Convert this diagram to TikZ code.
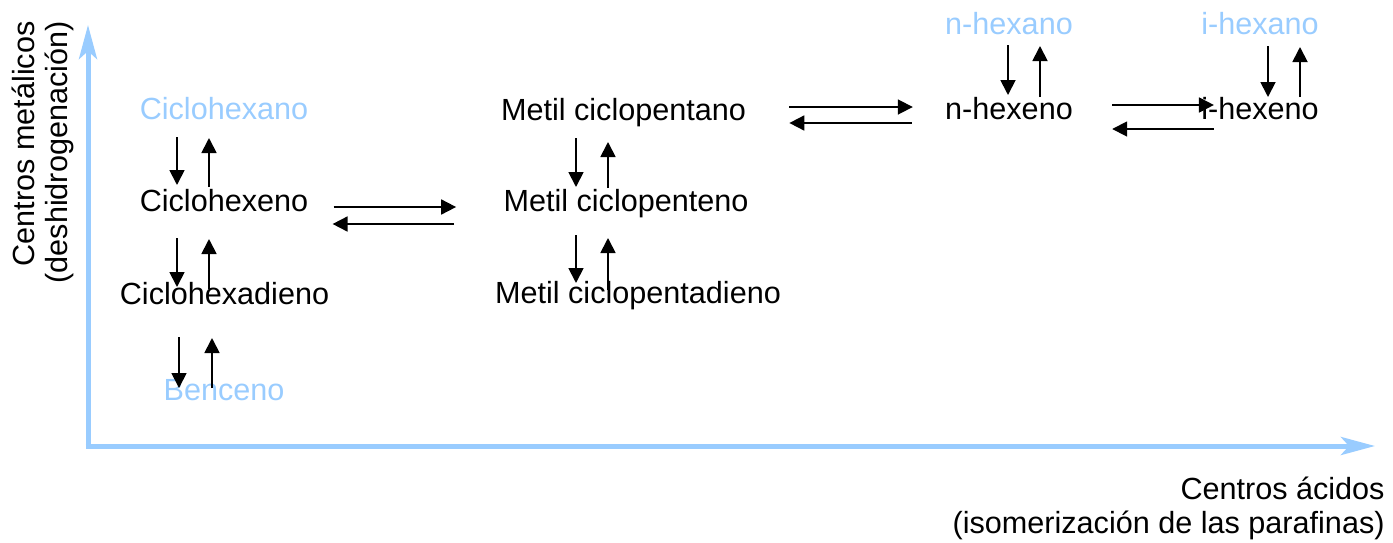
\documentclass[tikz,border=0pt]{standalone}
\usepackage{fontspec}
\setmainfont{Liberation Sans}
\usetikzlibrary{arrows.meta, calc}
\definecolor{axisblue}{RGB}{153,204,255}

\begin{document}
\begin{tikzpicture}[x=0.5pt, y=-0.5pt, line join=miter,
	font=\fontsize{15.3}{17}\selectfont,
	species/.style={inner sep=0pt, anchor=base},
	feed/.style={species, text=axisblue},
	rx/.style={line width=0.9pt, -{Triangle[length=7.5pt, width=7.5pt]}},
	axis/.style={draw=axisblue, line width=2.5pt, -{Stealth[length=17pt, width=9pt, inset=4pt]}}]
	
	\useasboundingbox (0,0) rectangle (1393,542);
	
	% ===============================
	% ============ AXES =============
	% ===============================
	\coordinate (ytop) at (88,25);
	\coordinate (origin) at (88,446);
	\coordinate (xend) at (1375,446);
	\draw[axis] ([yshift=-1.25pt]origin) -- (ytop);
	\draw[axis] ([xshift=-1.25pt]origin) -- (xend);
	
	\node[rotate=90, anchor=base east, align=right, inner sep=0pt] (ylab) at (68,21)
	{Centros metálicos\\(deshidrogenación)};
	\node[anchor=base east, align=right, inner sep=0pt] (xlab) at (1385,533)
	{Centros ácidos\\(isomerización de las parafinas)};
	
	% ===============================
	% ========== SPECIES ============
	% ===============================
	
	% ---- six-ring column ----
	\node[feed] (chxano) at (224,119) {Ciclohexano};
	\node[species] (chxeno) at (224,211) {Ciclohexeno};
	\node[species] (chdieno) at (224.5,304) {Ciclohexadieno};
	\node[feed] (benceno) at (224,400) {Benceno};
	
	% ---- five-ring column ----
	\node[species] (mcpano) at (623.5,120) {Metil ciclopentano};
	\node[species] (mcpeno) at (626,211) {Metil ciclopenteno};
	\node[species] (mcpdieno) at (638,303) {Metil ciclopentadieno};
	
	% ---- paraffins / olefins ----
	\node[feed] (nhexano) at (1009,34) {n-hexano};
	\node[species] (nhexeno) at (1009,119) {n-hexeno};
	\node[feed] (ihexano) at (1260,34) {i-hexano};
	\node[species] (ihexeno) at (1260,119) {i-hexeno};
	
	% ===============================
	% ===== METAL STEPS (vertical) ==
	% ===============================
	\draw[rx] ($(chxano.base)+(-47,18)$) -- ($(chxeno.base)+(-47,-26)$);
	\draw[rx] ($(chxeno.base)+(-15,-24)$) -- ($(chxano.base)+(-15,19)$);
	
	\draw[rx] ($(chxeno.base)+(-47,27)$) -- ($(chdieno.base)+(-47.5,-17)$);
	\draw[rx] ($(chdieno.base)+(-15.5,-15)$) -- ($(chxeno.base)+(-15,28)$);
	
	\draw[rx] ($(chdieno.base)+(-45.5,33)$) -- ($(benceno.base)+(-45,-12)$);
	\draw[rx] ($(benceno.base)+(-12,-12)$) -- ($(chdieno.base)+(-12.5,34)$);
	
	\draw[rx] ($(mcpano.base)+(-47.5,18)$) -- ($(mcpeno.base)+(-50,-24)$);
	\draw[rx] ($(mcpeno.base)+(-18,-23)$) -- ($(mcpano.base)+(-15.5,22)$);
	
	\draw[rx] ($(mcpeno.base)+(-50,24)$) -- ($(mcpdieno.base)+(-62,-20)$);
	\draw[rx] ($(mcpdieno.base)+(-30,-13)$) -- ($(mcpeno.base)+(-18,27)$);
	
	\draw[rx] ($(nhexano.base)+(-1,11)$) -- ($(nhexeno.base)+(-1,-24)$);
	\draw[rx] ($(nhexeno.base)+(31,-22)$) -- ($(nhexano.base)+(31,12)$);
	
	\draw[rx] ($(ihexano.base)+(8,12)$) -- ($(ihexeno.base)+(8,-22)$);
	\draw[rx] ($(ihexeno.base)+(40,-22)$) -- ($(ihexano.base)+(40,13)$);
	
	% ===============================
	% ==== ACID STEPS (horizontal) ==
	% ===============================
	\draw[rx] ($(chxeno.base east)+(25,-4)$) -- ($(mcpeno.base west)+(-47,-4)$);
	\draw[rx] ($(mcpeno.base west)+(-49,13)$) -- ($(chxeno.base east)+(24,13)$);
	
	\draw[rx] ($(mcpano.base east)+(43,-13)$) -- ($(nhexeno.base west)+(-32,-12)$);
	\draw[rx] ($(nhexeno.base west)+(-33,4)$) -- ($(mcpano.base east)+(43,3)$);
	
	\draw[rx] ($(nhexeno.base east)+(39,-14)$) -- ($(ihexeno.base west)+(13,-14)$);
	\draw[rx] ($(ihexeno.base west)+(13,10)$) -- ($(nhexeno.base east)+(39,10)$);
	
\end{tikzpicture}
\end{document}
